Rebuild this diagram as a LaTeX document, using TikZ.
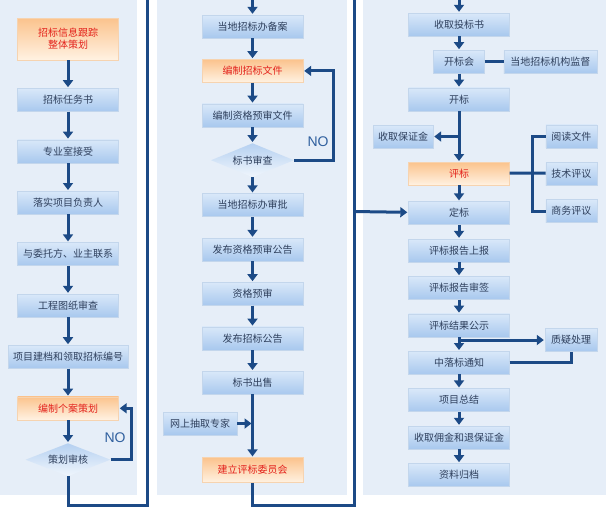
\documentclass[tikz,border=0pt]{standalone}
\usepackage{fontspec}
\setmainfont{Noto Sans CJK SC}
\newfontfamily\latinfont{Liberation Sans}
\usetikzlibrary{arrows.meta, shapes.geometric, positioning}
\definecolor{navy}{HTML}{1C4A86}
\definecolor{panelbg}{HTML}{E6EEF8}
\definecolor{boxtop}{HTML}{D9E8F9}
\definecolor{boxbot}{HTML}{A8C8EE}
\definecolor{boxline}{HTML}{C3D6EC}
\definecolor{warmtop}{HTML}{FBC38D}
\definecolor{warmbot}{HTML}{FFF2E2}
\definecolor{warmline}{HTML}{F6D3B0}
\definecolor{boxtext}{HTML}{2E3F5C}
\definecolor{warmtext}{HTML}{E3211B}
\definecolor{notext}{HTML}{2F5F9E}
\tikzset{
  flow/.style={
	x=1pt, y=-1pt, % one unit is one pixel, y runs downwards
	font=\fontsize{10}{12}\selectfont, % size of the box texts
	every node/.style={inner sep=0pt},
  },
  task/.style={draw=boxline, top color=boxtop, bottom color=boxbot, text=boxtext,
	minimum width=101pt, minimum height=23pt}, % blue step box
  plan/.style={task, draw=warmline, top color=warmtop, bottom color=warmbot,
	text=warmtext}, % orange key step
  check/.style={diamond, aspect=2.6, top color=boxbot!85, bottom color=boxtop!40,
	minimum width=85pt, minimum height=33pt, text=boxtext}, % review diamond
  link/.style={navy, line width=3pt, -{Triangle[width=10pt,length=7pt]},
	shorten >=1pt}, % arrow between steps
  wire/.style={navy, line width=3pt}, % plain connector
  nolabel/.style={text=notext, font=\latinfont\fontsize{14}{14}\selectfont},
}

\begin{document}
\begin{tikzpicture}[flow]
\useasboundingbox (0,0) rectangle (609,515);
% background panels
\fill[panelbg] (0,0) rectangle (137,495);
\fill[panelbg] (157,0) rectangle (347,495);
\fill[panelbg] (363,0) rectangle (606,495);

% left column
\begin{scope}[node distance=28pt, every node/.append style={minimum height=24pt}]
\node[plan, minimum height=42pt, align=center] (brief) at (68,39) {招标信息跟踪\\整体策划};
\node[task, below=of brief] (mandate) {招标任务书};
\node[task, below=of mandate] (accept) {专业室接受};
\node[task, below=of accept] (leader) {落实项目负责人};
\node[task, below=of leader] (contact) {与委托方、业主联系};
\node[task, below=of contact] (drawings) {工程图纸审查};
\node[task, below=of drawings, minimum width=120pt] (archive) {项目建档和领取招标编号};
\node[plan, below=of archive] (caseplan) {编制个案策划};
\end{scope}
\node[check, below=23pt of caseplan] (planreview) {策划审核};
\node[nolabel] (noleft) at (115,438) {NO};

% middle column
\begin{scope}[node distance=21pt]
\node[task] (filing) at (252.5,26.5) {当地招标办备案};
\node[plan, below=of filing] (tender) {编制招标文件};
\node[task, below=of tender] (prequal) {编制资格预审文件};
\node[check, below=16pt of prequal, minimum width=83pt, minimum height=34pt] (docreview) {标书审查};
\node[task, below=16pt of docreview] (approval) {当地招标办审批};
\node[task, below=of approval] (prenotice) {发布资格预审公告};
\node[task, below=of prenotice] (precheck) {资格预审};
\node[task, below=of precheck] (notice) {发布招标公告};
\node[task, below=of notice] (bidsale) {标书出售};
\node[plan, below=63pt of bidsale, minimum height=25pt] (committee) {建立评标委员会};
\end{scope}
\node[task, minimum width=74pt] (experts) at (200,423.5) {网上抽取专家};
\node[nolabel] (nomid) at (318,142) {NO};

% right column
\begin{scope}[node distance=14pt]
\node[task] (receive) at (459,24.5) {收取投标书};
\node[task, below=of receive, minimum width=51pt] (meeting) {开标会};
\node[task, right=19pt of meeting, minimum width=93pt] (supervise) {当地招标机构监督};
\node[task, below=of meeting] (opening) {开标};
\node[plan, below=51pt of opening] (evaluate) {评标};
\node[task, right=36pt of evaluate, minimum width=51pt] (technical) {技术评议};
\node[task, above=of technical, minimum width=51pt] (reading) {阅读文件};
\node[task, below=of technical, minimum width=51pt] (business) {商务评议};
\node[task, below=16pt of evaluate] (award) {定标};
\node[task, below=of award] (report) {评标报告上报};
\node[task, below=of report] (sign) {评标报告审签};
\node[task, below=of sign] (publish) {评标结果公示};
\node[task, below=of publish] (result) {中落标通知};
\node[task, below=of result] (summary) {项目总结};
\node[task, below=of summary] (refund) {收取佣金和退保证金};
\node[task, below=of refund] (filed) {资料归档};
\end{scope}
\node[task, minimum width=60pt] (deposit) at (403,136.5) {收取保证金};
\node[task, minimum width=52pt] (objection) at (571,340) {质疑处理};

% free ends of the connectors
\coordinate (lefttop) at (147,0);
\coordinate (leftbend) at (147,505);
\coordinate (midtop) at (252.5,0);
\coordinate (midright) at (354,0);
\coordinate (midbend) at (354,505);
\coordinate (midjoin) at (354,211.5);
\coordinate (righttop) at (459,0);
\coordinate (spine) at (532,173);

% left column links
\draw[link] (brief) edge (mandate) (mandate) edge (accept) (accept) edge (leader)
	(leader) edge (contact) (contact) edge (drawings) (drawings) edge (archive)
	(archive) edge (caseplan) (caseplan) edge (planreview);
\draw[link] (planreview.east) -- ++(21,0) |- (caseplan.east);
\draw[wire] (planreview.south) |- (leftbend) -- (lefttop);

% middle column links
\draw[link] (midtop) -- (filing);
\draw[link] (filing) edge (tender) (tender) edge (prequal) (prequal) edge (docreview)
	(docreview) edge (approval) (approval) edge (prenotice) (prenotice) edge (precheck)
	(precheck) edge (notice) (notice) edge (bidsale) (bidsale) edge (committee);
\draw[link] (docreview.east) -- ++(39,0) |- (tender.east);
\draw[link] (experts) -- (experts -| committee);
\draw[wire] (committee.south) |- (midbend) -- (midright);
\draw[link] (midjoin) -- (award);

% right column links
\draw[link] (righttop) -- (receive);
\draw[link] (receive) edge (meeting) (meeting) edge (opening) (opening) edge (evaluate)
	(evaluate) edge (award) (award) edge (report) (report) edge (sign)
	(sign) edge (publish) (publish) edge (result) (result) edge (summary)
	(summary) edge (refund) (refund) edge (filed);
\draw[wire] (meeting) -- (supervise);
\draw[link] (opening |- deposit) -- (deposit);
\draw[wire] (evaluate) -- (spine) -- (technical);
\draw[wire] (reading) -| (spine) |- (business);
\draw[link] (publish |- objection) -- (objection);
\draw[wire] (result) -| (objection);
\end{tikzpicture}
\end{document}
